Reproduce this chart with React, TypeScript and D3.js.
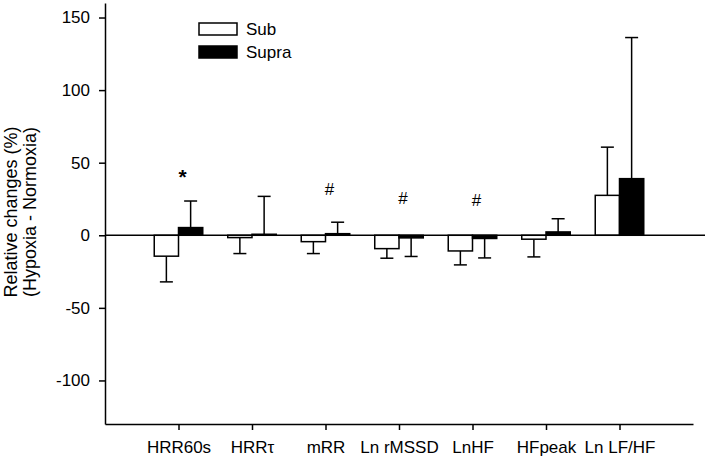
import { useEffect, useRef } from 'react';
import * as d3 from 'd3';

// categories along the x axis
const categories = ['HRR60s', 'HRRτ', 'mRR', 'Ln rMSSD', 'LnHF', 'HFpeak', 'Ln LF/HF'];

// relative changes (%), hypoxia - normoxia
const subMean = [-14.4, -1.6, -4.4, -9.2, -10.8, -2.7, 27.5];
const subSD = [17.7, 11.0, 8.2, 6.6, 9.6, 12.2, 33.2];
const supraMean = [5.3, 0.7, 1.1, -1.8, -2.2, 2.3, 39.0];
const supraSD = [18.3, 26.1, 7.9, 12.8, 13.4, 9.1, 97.2];

const yTicks = [-100, -50, 0, 50, 100, 150];

// significance markers: category index, symbol, level
const markers = [
  { cat: 0, symbol: '*', value: 43 },
  { cat: 2, symbol: '#', value: 32 },
  { cat: 3, symbol: '#', value: 26 },
  { cat: 4, symbol: '#', value: 24 },
];

const legendItems = [
  { label: 'Sub', fill: '#fff' },
  { label: 'Supra', fill: '#000' },
];

export default function App() {
  const svgRef = useRef<SVGSVGElement>(null);

  useEffect(() => {
    if (!svgRef.current) return;
    const width = 709;
    const height = 460;
    const font = '"Liberation Sans", Arial, Helvetica, sans-serif';

    d3.select(svgRef.current).selectAll('*').remove();
    const svg = d3.select(svgRef.current)
      .attr('width', width)
      .attr('height', height)
      .style('font-family', font);

    const x = d3.scaleLinear().domain([0, categories.length + 1]).range([105, 693]);
    const y = d3.scaleLinear().domain([-130, 160]).range([424, 3]);
    const step = x(1) - x(0);
    const barW = step * 0.33;
    const capW = 13;

    // y axis
    const yAxis = svg.append('g')
      .attr('transform', `translate(${x(0)},0)`)
      .call(d3.axisLeft(y).tickValues(yTicks).tickSize(6).tickSizeOuter(0).tickPadding(9)
        .tickFormat(d => String(d)));
    yAxis.selectAll('text').style('font-size', '17px').style('fill', '#000').style('font-family', font);
    yAxis.selectAll('line, path').attr('stroke', '#000').attr('stroke-width', 1.5);

    // x axis
    const xAxis = svg.append('g')
      .attr('transform', `translate(0,${y(-130)})`)
      .call(d3.axisBottom(x).tickValues(categories.map((_, i) => i + 1)).tickSize(6).tickSizeOuter(0)
        .tickPadding(11).tickFormat(d => categories[(d as number) - 1]));
    xAxis.selectAll('text').style('font-size', '17px').style('fill', '#000').style('font-family', font);
    xAxis.selectAll('line, path').attr('stroke', '#000').attr('stroke-width', 1.5);

    // y axis label
    const label = svg.append('text')
      .attr('transform', `translate(17,212) rotate(-90)`)
      .attr('text-anchor', 'middle')
      .style('font-size', '18px');
    label.append('tspan').attr('x', 0).attr('y', 0).text('Relative changes (%)');
    label.append('tspan').attr('x', 0).attr('y', 19).text('(Hypoxia - Normoxia)');

    const series = [
      { mean: subMean, sd: subSD, fill: '#fff', offset: -barW },
      { mean: supraMean, sd: supraSD, fill: '#000', offset: 0 },
    ];

    series.forEach(s => {
      const g = svg.append('g');
      // error bars (one-sided, away from zero)
      s.mean.forEach((m, i) => {
        const cx = x(i + 1) + s.offset + barW / 2;
        const end = m + (m >= 0 ? 1 : -1) * s.sd[i];
        g.append('line')
          .attr('x1', cx).attr('x2', cx)
          .attr('y1', y(m)).attr('y2', y(end))
          .attr('stroke', '#000').attr('stroke-width', 1.5);
        g.append('line')
          .attr('x1', cx - capW / 2).attr('x2', cx + capW / 2)
          .attr('y1', y(end)).attr('y2', y(end))
          .attr('stroke', '#000').attr('stroke-width', 1.5);
      });
      g.selectAll('rect')
        .data(s.mean)
        .join('rect')
        .attr('x', (_, i) => x(i + 1) + s.offset)
        .attr('width', barW)
        .attr('y', d => y(Math.max(0, d)))
        .attr('height', d => Math.abs(y(d) - y(0)))
        .attr('fill', s.fill)
        .attr('stroke', '#000')
        .attr('stroke-width', 1.5);
    });

    // zero line
    svg.append('line')
      .attr('x1', x(0)).attr('x2', 705)
      .attr('y1', y(0)).attr('y2', y(0))
      .attr('stroke', '#000').attr('stroke-width', 1.5);

    // markers
    svg.selectAll('.marker')
      .data(markers)
      .join('text')
      .attr('class', 'marker')
      .attr('x', d => x(d.cat + 1) + 4)
      .attr('y', d => y(d.value) + (d.symbol === '*' ? 11 : 6))
      .attr('text-anchor', 'middle')
      .style('font-size', d => (d.symbol === '*' ? '21px' : '17px'))
      .style('font-weight', d => (d.symbol === '*' ? 'bold' : 'normal'))
      .text(d => d.symbol);

    // legend
    const legend = svg.append('g').attr('transform', 'translate(199,23)');
    legendItems.forEach((item, i) => {
      const row = legend.append('g').attr('transform', `translate(0,${i * 23})`);
      row.append('rect')
        .attr('width', 38).attr('height', 12)
        .attr('fill', item.fill)
        .attr('stroke', '#000').attr('stroke-width', 1.5);
      row.append('text')
        .attr('x', 47).attr('y', 12)
        .style('font-size', '17px')
        .text(item.label);
    });
  }, []);

  return (
    <svg ref={svgRef} style={{ position: 'fixed', left: 0, top: 0, display: 'block', background: '#fff' }}></svg>
  );
}
